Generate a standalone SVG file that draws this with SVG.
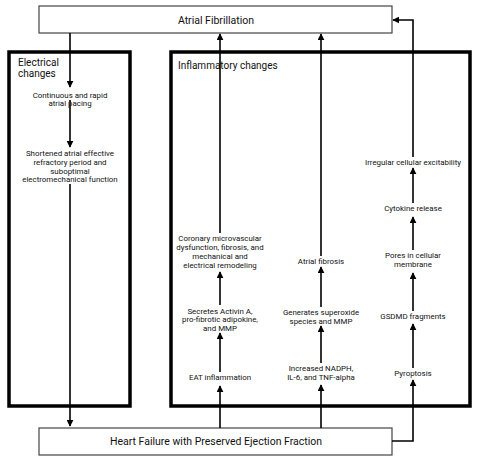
<svg xmlns="http://www.w3.org/2000/svg" width="478" height="459" viewBox="0 0 478 459">
<defs>
<marker id="ah" viewBox="0 0 10 10" refX="9" refY="5" markerWidth="7" markerHeight="7" markerUnits="userSpaceOnUse" orient="auto"><path d="M0,0 L10,5 L0,10 z" fill="#000"/></marker>
<style>
.main{fill:#fff;stroke:#444;stroke-width:1.2}
.grp{fill:none;stroke:#000;stroke-width:3.5}
.t{font-family:Roboto,"Liberation Sans",sans-serif;fill:#111;text-anchor:middle}
.big{font-size:10.5px}
.sm{font-size:7.9px}
.ttl{font-family:Roboto,"Liberation Sans",sans-serif;fill:#111;font-size:10px}
.c{fill:none;stroke:#000;stroke-width:1.6;marker-end:url(#ah)}
</style>
</defs>
<rect width="478" height="459" fill="#fff"/>
<g id="electrical-group">
<rect class="grp" x="9" y="52" width="121" height="354"/>
<text class="ttl" x="18" y="66">Electrical</text>
<text class="ttl" x="18" y="77">changes</text>
</g>
<g id="inflammatory-group">
<rect class="grp" x="171" y="52" width="299" height="354"/>
<text class="ttl" x="178" y="69">Inflammatory changes</text>
</g>
<g id="af">
<rect class="main" x="39" y="6" width="353" height="27"/>
<text class="t big" x="216" y="23.5">Atrial Fibrillation</text>
</g>
<g id="hfpef">
<rect class="main" x="39" y="428" width="353" height="27"/>
<text class="t big" x="216" y="445">Heart Failure with Preserved Ejection Fraction</text>
</g>
<g id="connectors">
<path class="c" d="M70,33 V87"/>
<path class="c" d="M70,100 V147"/>
<path class="c" d="M70,184 V426"/>
<path class="c" d="M220,428 V386"/>
<path class="c" d="M220,372 V333"/>
<path class="c" d="M220,305 V272"/>
<path class="c" d="M220,233 V34"/>
<path class="c" d="M321,428 V385"/>
<path class="c" d="M321,363 V326"/>
<path class="c" d="M321,307 V267"/>
<path class="c" d="M321,256 V34"/>
<path class="c" d="M392,441 H413 V380"/>
<path class="c" d="M413,368 V324"/>
<path class="c" d="M413,311 V273"/>
<path class="c" d="M413,250 V217"/>
<path class="c" d="M413,203 V168"/>
<path class="c" d="M413,157 V20 H393"/>
</g>
<g id="n-pacing">
<text class="t sm" x="70" y="97.5">Continuous and rapid</text>
<text class="t sm" x="70" y="106">atrial pacing</text>
</g>
<g id="n-shortened">
<text class="t sm" x="70" y="155.5">Shortened atrial effective</text>
<text class="t sm" x="70" y="164.5">refractory period and</text>
<text class="t sm" x="70" y="173.5">suboptimal</text>
<text class="t sm" x="70" y="182">electromechanical function</text>
</g>
<g id="n-eat">
<text class="t sm" x="220" y="380">EAT inflammation</text>
</g>
<g id="n-secretes">
<text class="t sm" x="220" y="313.5">Secretes Activin A,</text>
<text class="t sm" x="220" y="322">pro-fibrotic adipokine,</text>
<text class="t sm" x="220" y="331">and MMP</text>
</g>
<g id="n-coronary">
<text class="t sm" x="220" y="241">Coronary microvascular</text>
<text class="t sm" x="220" y="250">dysfunction, fibrosis, and</text>
<text class="t sm" x="220" y="258.8">mechanical and</text>
<text class="t sm" x="220" y="267.8">electrical remodeling</text>
</g>
<g id="n-nadph">
<text class="t sm" x="321" y="370.5">Increased NADPH,</text>
<text class="t sm" x="321" y="379.5">IL-6, and TNF-alpha</text>
</g>
<g id="n-superoxide">
<text class="t sm" x="321" y="314.5">Generates superoxide</text>
<text class="t sm" x="321" y="323.5">species and MMP</text>
</g>
<g id="n-fibrosis">
<text class="t sm" x="321" y="263.5">Atrial fibrosis</text>
</g>
<g id="n-pyroptosis">
<text class="t sm" x="413" y="375.5">Pyroptosis</text>
</g>
<g id="n-gsdmd">
<text class="t sm" x="413" y="318.8">GSDMD fragments</text>
</g>
<g id="n-pores">
<text class="t sm" x="413" y="257.8">Pores in cellular</text>
<text class="t sm" x="413" y="267">membrane</text>
</g>
<g id="n-cytokine">
<text class="t sm" x="413" y="211">Cytokine release</text>
</g>
<g id="n-irregular">
<text class="t sm" x="413" y="164.5">Irregular cellular excitability</text>
</g>
</svg>
